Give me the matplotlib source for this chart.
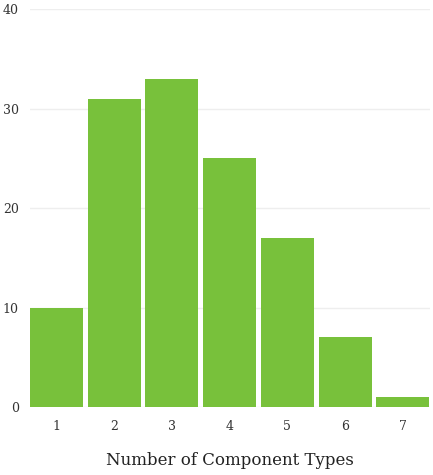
import matplotlib
matplotlib.use("Agg")
import matplotlib.pyplot as plt

# data
categories = [1, 2, 3, 4, 5, 6, 7]
counts = [10, 31, 33, 25, 17, 7, 1]
y_ticks = [0, 10, 20, 30, 40]

plt.rcParams["font.family"] = ["DejaVu Serif"]

fig = plt.figure(figsize=(4.33, 4.75), dpi=100)
ax = fig.add_axes([0.069, 0.143, 0.924, 0.838])

ax.bar(categories, counts, width=0.92, color="#78c13b", zorder=2)

ax.set_xlim(0.54, 7.47)
ax.set_ylim(0, 40)
ax.set_yticks(y_ticks)
ax.set_xticks(categories)
ax.yaxis.grid(True, color="#eeeeee", linewidth=1, zorder=0)
ax.set_axisbelow(True)

for side in ["top", "right", "left", "bottom"]:
    ax.spines[side].set_visible(False)

ax.tick_params(axis="both", length=0, labelsize=9, colors="#333333")
ax.tick_params(axis="y", pad=8)
ax.tick_params(axis="x", pad=9)
ax.set_xlabel("Number of Component Types", fontsize=12, color="#222222", labelpad=14)

fig.savefig("out.png", dpi=100)
